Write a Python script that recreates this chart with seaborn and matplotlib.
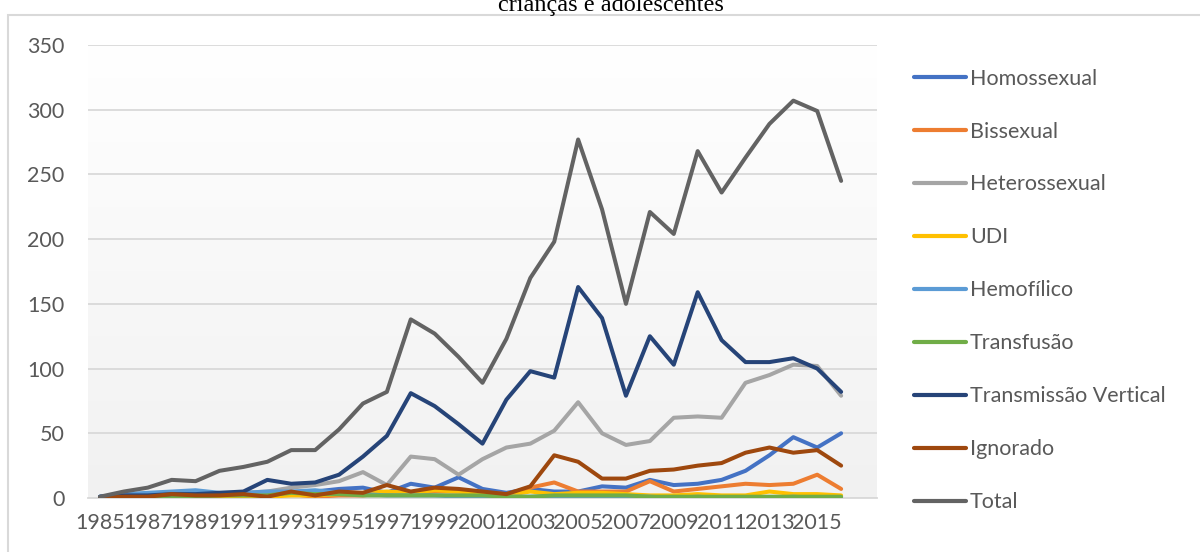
import numpy as np
import pandas as pd
import matplotlib
matplotlib.use('Agg')
import matplotlib.pyplot as plt
import matplotlib.patches as mpatches
import seaborn as sns

# --- Data ---
years = list(range(1985, 2017))

homossexual = [1, 2, 3, 3, 4, 3, 4, 3, 4, 5, 7, 8, 4, 11, 8, 16, 7, 4, 7, 5, 5, 9,
               8, 14, 10, 11, 14, 21, 33, 47, 39, 50]
bissexual = [0, 0, 1, 1, 1, 0, 1, 1, 3, 1, 2, 2, 4, 3, 5, 5, 4, 3, 8, 12, 5, 5,
             5, 13, 5, 7, 9, 11, 10, 11, 18, 7]
heterossexual = [0, 1, 2, 3, 3, 3, 4, 5, 8, 10, 13, 20, 10, 32, 30, 18, 30, 39, 42, 52, 74, 50,
                 41, 44, 62, 63, 62, 89, 95, 103, 102, 79]
udi = [0, 0, 0, 1, 1, 1, 1, 1, 2, 2, 3, 4, 5, 4, 6, 5, 4, 2, 5, 3, 4, 4,
       3, 2, 2, 3, 2, 2, 5, 3, 3, 2]
hemofilico = [1, 3, 4, 5, 6, 4, 4, 5, 5, 6, 4, 3, 2, 2, 2, 1, 1, 1, 1, 1, 1, 1,
              1, 1, 0, 1, 0, 0, 0, 1, 0, 0]
transfusao = [0, 1, 1, 1, 1, 2, 2, 2, 4, 3, 3, 2, 2, 2, 2, 2, 2, 1, 1, 2, 2, 2,
              2, 1, 1, 1, 1, 1, 1, 1, 1, 1]
vertical = [1, 2, 2, 3, 3, 4, 5, 14, 11, 12, 18, 32, 48, 81, 71, 57, 42, 76, 98, 93, 163, 139,
            79, 125, 103, 159, 122, 105, 105, 108, 100, 82]
ignorado = [0, 1, 1, 3, 2, 2, 3, 1, 5, 2, 5, 4, 10, 5, 8, 7, 5, 3, 9, 33, 28, 15,
            15, 21, 22, 25, 27, 35, 39, 35, 37, 25]
total = [1, 5, 8, 14, 13, 21, 24, 28, 37, 37, 53, 73, 82, 138, 127, 109, 89, 123, 170, 198, 277, 223,
         150, 221, 204, 268, 236, 263, 289, 307, 299, 245]

series_names = ['Homossexual', 'Bissexual', 'Heterossexual', 'UDI', 'Hemofílico',
                'Transfusão', 'Transmissão Vertical', 'Ignorado', 'Total']
series_values = [homossexual, bissexual, heterossexual, udi, hemofilico,
                 transfusao, vertical, ignorado, total]
colors = ['#4472C4', '#ED7D31', '#A5A5A5', '#FFC000', '#5B9BD5',
          '#70AD47', '#264478', '#9E480E', '#636363']

title_text = 'crianças e adolescentes'

# --- long-form table ---
rows = []
for name, vals in zip(series_names, series_values):
    for i, (yr, v) in enumerate(zip(years, vals)):
        rows.append({'pos': i, 'ano': yr, 'casos': v, 'categoria': name})
df = pd.DataFrame(rows)

# --- Style ---
sns.set_style('white')
plt.rcParams['font.family'] = ['Lato', 'DejaVu Sans']
text_color = '#595959'
grid_color = '#D9D9D9'

fig = plt.figure(figsize=(12, 5.52), dpi=100)
ax = fig.add_axes([88 / 1200, 1 - 498 / 552, (877 - 88) / 1200, (498 - 45) / 552])

# gradient fill of the plot area
grad = np.linspace(1.0, 0.0, 256).reshape(-1, 1)
cmap = matplotlib.colors.LinearSegmentedColormap.from_list('bg', ['#F1F1F1', '#FFFFFF'])
ax.imshow(grad, extent=[0, 1, 0, 1], transform=ax.transAxes, aspect='auto',
          cmap=cmap, zorder=0)

sns.lineplot(data=df, x='pos', y='casos', hue='categoria', hue_order=series_names,
             palette=colors, linewidth=2.9, ax=ax, legend=False, zorder=3)
for ln in ax.lines:
    ln.set_solid_capstyle('round')
    ln.set_solid_joinstyle('round')

ax.set_xlim(-0.5, len(years) + 0.5)
ax.set_ylim(0, 350)
ax.set_yticks(range(0, 351, 50))
ax.yaxis.grid(True, color=grid_color, linewidth=1.3, zorder=1)
ax.set_axisbelow(True)

ax.set_xticks(range(0, len(years), 2))
ax.set_xticklabels([str(y) for y in years[::2]])
ax.set_xticks(np.arange(-0.5, len(years) + 1, 1), minor=True)
ax.tick_params(axis='x', which='major', length=0, pad=10.5, labelsize=15.5, colors=text_color)
ax.tick_params(axis='x', which='minor', length=7, width=1.3, color=grid_color)
ax.tick_params(axis='y', length=0, pad=17, labelsize=15.5, colors=text_color)
ax.set_xlabel('')
ax.set_ylabel('')

for side in ['top', 'right', 'left']:
    ax.spines[side].set_visible(False)
ax.spines['bottom'].set_color(grid_color)
ax.spines['bottom'].set_linewidth(1.3)

# legend on the right
handles = [plt.Line2D([], [], color=c, linewidth=3, solid_capstyle='round') for c in colors]
leg = fig.legend(handles, series_names, loc='upper left',
                 bbox_to_anchor=(905 / 1200, 1 - 60 / 552), frameon=False,
                 fontsize=15.5, handlelength=2.42, handletextpad=0.2,
                 labelspacing=1.53, borderaxespad=0)
for t in leg.get_texts():
    t.set_color(text_color)

# chart border and clipped title above it
fig.patches.append(mpatches.Rectangle((8 / 1200, -0.1), 1.2, 1.1 - 15 / 552,
                                      transform=fig.transFigure, fill=False,
                                      edgecolor=grid_color, linewidth=1.5))
fig.text(611 / 1200, 1 - 11.5 / 552, title_text, ha='center', va='baseline',
         fontsize=17.5, family='Liberation Serif', color='black')

fig.savefig('out.png', dpi=100)
